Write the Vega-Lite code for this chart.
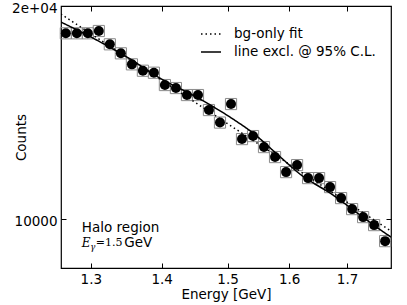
{
  "$schema": "https://vega.github.io/schema/vega-lite/v6.json",
  "width": 330,
  "height": 262,
  "autosize": {"type": "none"},
  "padding": {"left": 61, "top": 6, "right": 16, "bottom": 37},
  "background": "white",
  "config": {
    "view": {"stroke": "black", "strokeWidth": 1.2},
    "font": "DejaVu Sans",
    "axis": {
      "grid": false,
      "domain": false,
      "labelFont": "DejaVu Sans",
      "labelFontSize": 13.5,
      "labelColor": "black",
      "titleFont": "DejaVu Sans",
      "titleFontSize": 13.5,
      "titleFontWeight": "normal",
      "titleColor": "black",
      "tickColor": "black",
      "tickSize": -5,
      "tickWidth": 1
    }
  },
  "datasets": {
    "points": [
      {"E": 1.2664, "C": 18301},
      {"E": 1.2811, "C": 18301},
      {"E": 1.2959, "C": 18301},
      {"E": 1.3109, "C": 18438},
      {"E": 1.3261, "C": 17657},
      {"E": 1.3415, "C": 17147},
      {"E": 1.3571, "C": 16543},
      {"E": 1.3728, "C": 16203},
      {"E": 1.3887, "C": 16098},
      {"E": 1.4048, "C": 15466},
      {"E": 1.4211, "C": 15316},
      {"E": 1.4376, "C": 14971},
      {"E": 1.4543, "C": 14971},
      {"E": 1.4711, "C": 14258},
      {"E": 1.4882, "C": 13689},
      {"E": 1.5055, "C": 14539},
      {"E": 1.5229, "C": 12973},
      {"E": 1.5406, "C": 13101},
      {"E": 1.5584, "C": 12640},
      {"E": 1.5765, "C": 12236},
      {"E": 1.5948, "C": 11652},
      {"E": 1.6133, "C": 11921},
      {"E": 1.6320, "C": 11427},
      {"E": 1.6509, "C": 11427},
      {"E": 1.6700, "C": 11097},
      {"E": 1.6894, "C": 10707},
      {"E": 1.7090, "C": 10331},
      {"E": 1.7288, "C": 10065},
      {"E": 1.7488, "C": 9807},
      {"E": 1.7691, "C": 9309}
    ],
    "fits": [
      {"series": "bg-only fit", "E": 1.2598, "C": 19486},
      {"series": "bg-only fit", "E": 1.4976, "C": 13685},
      {"series": "bg-only fit", "E": 1.7802, "C": 9617},
      {"series": "line excl. @ 95% C.L.", "E": 1.2598, "C": 18985},
      {"series": "line excl. @ 95% C.L.", "E": 1.3027, "C": 18022},
      {"series": "line excl. @ 95% C.L.", "E": 1.3500, "C": 16942},
      {"series": "line excl. @ 95% C.L.", "E": 1.3975, "C": 15822},
      {"series": "line excl. @ 95% C.L.", "E": 1.4573, "C": 14777},
      {"series": "line excl. @ 95% C.L.", "E": 1.5086, "C": 13846},
      {"series": "line excl. @ 95% C.L.", "E": 1.5406, "C": 13230},
      {"series": "line excl. @ 95% C.L.", "E": 1.5798, "C": 12356},
      {"series": "line excl. @ 95% C.L.", "E": 1.6183, "C": 11577},
      {"series": "line excl. @ 95% C.L.", "E": 1.6753, "C": 10812},
      {"series": "line excl. @ 95% C.L.", "E": 1.7234, "C": 10131},
      {"series": "line excl. @ 95% C.L.", "E": 1.7691, "C": 9555},
      {"series": "line excl. @ 95% C.L.", "E": 1.7802, "C": 9431}
    ]
  },
  "resolve": {"axis": {"x": "independent", "y": "independent"}},
  "layer": [
    {
      "data": {"name": "points"},
      "mark": {"type": "point", "shape": "square", "filled": false, "stroke": "#8a8a8a", "strokeWidth": 1, "size": 125, "opacity": 1},
      "encoding": {
        "x": {"field": "E", "type": "quantitative",
              "scale": {"type": "log", "domain": [1.26, 1.78], "nice": false, "zero": false},
              "axis": {"orient": "bottom", "values": [1.3, 1.4, 1.5, 1.6, 1.7], "format": ".1f", "title": "Energy [GeV]", "labelPadding": 9, "titlePadding": 2}},
        "y": {"field": "C", "type": "quantitative",
              "scale": {"type": "log", "domain": [8530, 20000], "nice": false, "zero": false},
              "axis": {"orient": "left", "values": [10000, 20000], "labelExpr": "datum.value >= 15000 ? '2e+04' : '10000'", "title": "Counts", "labelPadding": 9, "labelOffset": 2, "titleAngle": -90, "titleX": -40, "titleY": 131, "titleBaseline": "middle", "titleAlign": "center"}}
      }
    },
    {
      "data": {"name": "points"},
      "mark": {"type": "point", "shape": "circle", "filled": true, "color": "black", "size": 100, "opacity": 1},
      "encoding": {
        "x": {"field": "E", "type": "quantitative", "axis": null},
        "y": {"field": "C", "type": "quantitative", "axis": null}
      }
    },
    {
      "data": {"name": "fits"},
      "mark": {"type": "line", "color": "black", "strokeWidth": 1.5, "interpolate": "monotone", "clip": true},
      "encoding": {
        "x": {"field": "E", "type": "quantitative",
              "axis": {"orient": "top", "values": [1.3, 1.4, 1.5, 1.6, 1.7], "labels": false, "title": null}},
        "y": {"field": "C", "type": "quantitative",
              "axis": {"orient": "right", "values": [10000, 20000], "labels": false, "title": null}},
        "strokeDash": {"field": "series", "type": "nominal",
          "scale": {"domain": ["bg-only fit", "line excl. @ 95% C.L."], "range": [[1.5, 3], [1, 0]]},
          "legend": {"title": null, "orient": "none", "legendX": 139, "legendY": 17, "padding": 0,
                     "symbolType": "stroke", "symbolSize": 400, "symbolStrokeWidth": 1.5, "symbolStrokeColor": "black",
                     "labelFont": "DejaVu Sans", "labelFontSize": 13.5, "labelColor": "black", "labelOffset": 12, "rowPadding": -7}}
      }
    },
    {
      "data": {"values": [{"label": "Halo region"}]},
      "mark": {"type": "text", "align": "left", "baseline": "middle", "font": "DejaVu Sans", "fontSize": 13.5, "color": "black"},
      "encoding": {
        "x": {"datum": 1.2878, "type": "quantitative", "axis": null},
        "y": {"datum": 9711, "type": "quantitative", "axis": null},
        "text": {"field": "label"}
      }
    },
    {
      "data": {"values": [{"label": "E"}]},
      "mark": {"type": "text", "align": "left", "baseline": "middle", "font": "DejaVu Serif", "fontStyle": "italic", "fontSize": 12, "color": "black"},
      "encoding": {
        "x": {"datum": 1.2878, "type": "quantitative", "axis": null},
        "y": {"datum": 9249, "type": "quantitative", "axis": null},
        "text": {"field": "label"}
      }
    },
    {
      "data": {"values": [{"label": "γ"}]},
      "mark": {"type": "text", "align": "left", "baseline": "middle", "font": "DejaVu Serif", "fontStyle": "italic", "fontSize": 8.5, "color": "black", "dx": 8.5, "dy": 4},
      "encoding": {
        "x": {"datum": 1.2878, "type": "quantitative", "axis": null},
        "y": {"datum": 9249, "type": "quantitative", "axis": null},
        "text": {"field": "label"}
      }
    },
    {
      "data": {"values": [{"label": "=1.5"}]},
      "mark": {"type": "text", "align": "left", "baseline": "middle", "font": "DejaVu Serif", "fontSize": 11, "color": "black", "dx": 14},
      "encoding": {
        "x": {"datum": 1.2878, "type": "quantitative", "axis": null},
        "y": {"datum": 9249, "type": "quantitative", "axis": null},
        "text": {"field": "label"}
      }
    },
    {
      "data": {"values": [{"label": "GeV"}]},
      "mark": {"type": "text", "align": "left", "baseline": "middle", "font": "DejaVu Sans", "fontSize": 13.5, "color": "black", "dx": 42.5},
      "encoding": {
        "x": {"datum": 1.2878, "type": "quantitative", "axis": null},
        "y": {"datum": 9249, "type": "quantitative", "axis": null},
        "text": {"field": "label"}
      }
    }
  ]
}
